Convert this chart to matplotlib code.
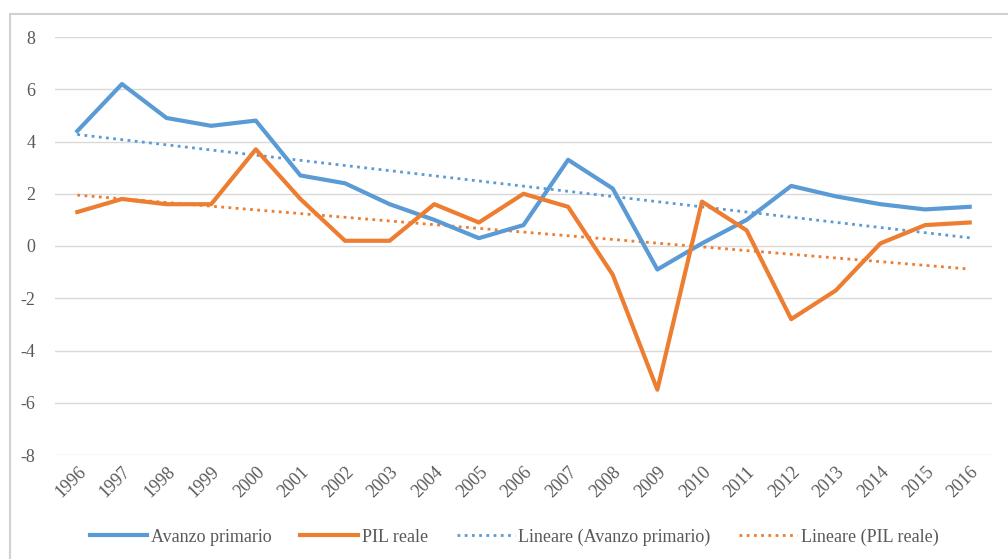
import numpy as np
import matplotlib.pyplot as plt
from matplotlib.patches import Rectangle

years = [str(y) for y in range(1996, 2017)]
avanzo = [4.4, 6.2, 4.9, 4.6, 4.8, 2.7, 2.4, 1.6, 1.0, 0.3, 0.8,
          3.3, 2.2, -0.9, 0.1, 1.0, 2.3, 1.9, 1.6, 1.4, 1.5]
pil = [1.3, 1.8, 1.6, 1.6, 3.7, 1.8, 0.2, 0.2, 1.6, 0.9, 2.0,
       1.5, -1.1, -5.5, 1.7, 0.6, -2.8, -1.7, 0.1, 0.8, 0.9]

blue = "#5B9BD5"
orange = "#ED7D31"
grey = "#595959"

plt.rcParams['font.family'] = ['Liberation Serif', 'DejaVu Serif']
plt.rcParams['axes.unicode_minus'] = False

fig = plt.figure(figsize=(10.08, 5.59), dpi=100)
# chart frame (only top and left edges are visible in the crop)
fig.patches.append(Rectangle((10/1008, -0.1), 1.2, 1 - 14/559 + 0.1,
                             transform=fig.transFigure, fill=False,
                             edgecolor="#D0D0D0", lw=1.5))
ax = fig.add_axes([55/1008, 1 - 455/559, (992 - 55)/1008, (455 - 37)/559])

x = np.arange(len(years))
ax.plot(x, avanzo, color=blue, lw=3, label="Avanzo primario", zorder=3)
ax.plot(x, pil, color=orange, lw=3, label="PIL reale", zorder=3)

# linear trend lines (least squares on the series, like Excel)
ka, ba = np.polyfit(x, avanzo, 1)
kp, bp = np.polyfit(x, pil, 1)
ax.plot(x, ka*x + ba, color=blue, lw=2, ls=(0, (1, 1.6)),
        label="Lineare (Avanzo primario)", zorder=2)
ax.plot(x, kp*x + bp, color=orange, lw=2, ls=(0, (1, 1.6)),
        label="Lineare (PIL reale)", zorder=2)

ax.set_xlim(-0.5, len(years) - 0.5)
ax.set_ylim(-8, 8)
ax.set_yticks(range(-8, 9, 2))
ax.set_xticks(x)
ax.set_xticklabels(years, rotation=45, ha="right", rotation_mode="anchor")
ax.tick_params(axis="y", length=0, pad=14, labelsize=13, labelcolor=grey)
ax.tick_params(axis="x", length=0, pad=6, labelsize=13, labelcolor=grey)
ax.grid(axis="y", color="#D9D9D9", lw=1)
ax.set_axisbelow(True)
for s in ax.spines.values():
    s.set_visible(False)

fig.legend(loc="center", bbox_to_anchor=(0.51, 1 - 537/559), ncol=4,
           frameon=False, fontsize=13, handlelength=3.2, columnspacing=1.6,
           handletextpad=0.2, labelcolor=grey)

fig.savefig("out.png", dpi=100)
